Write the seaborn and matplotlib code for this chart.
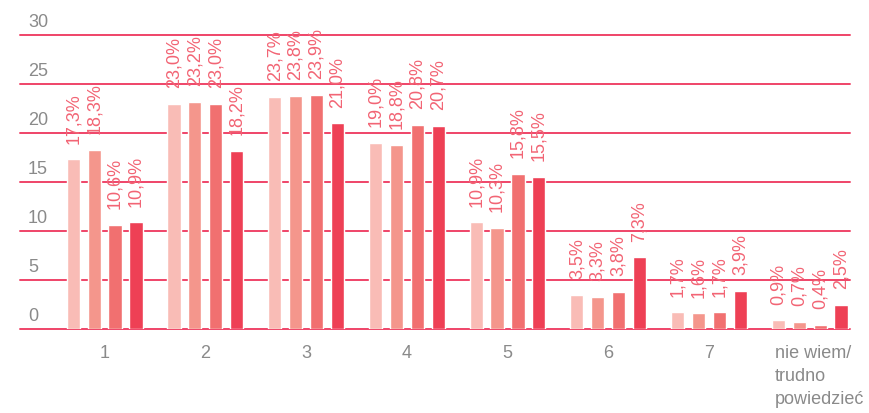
import matplotlib
matplotlib.use("Agg")
import matplotlib.pyplot as plt
import matplotlib.transforms as mtransforms
import seaborn as sns
import pandas as pd

# Answer categories and the four survey waves
categories = ["1", "2", "3", "4", "5", "6", "7", "nie wiem/\ntrudno\npowiedzieć"]
waves = ["w1", "w2", "w3", "w4"]
wave1 = [17.3, 23.0, 23.7, 19.0, 10.9, 3.5, 1.7, 0.9]
wave2 = [18.3, 23.2, 23.8, 18.8, 10.3, 3.3, 1.6, 0.7]
wave3 = [10.6, 23.0, 23.9, 20.8, 15.8, 3.8, 1.7, 0.4]
wave4 = [10.9, 18.2, 21.0, 20.7, 15.5, 7.3, 3.9, 2.5]
y_ticks = [0, 5, 10, 15, 20, 25, 30]

palette = ["#f9bcb6", "#f4968c", "#f17070", "#ee4055"]
label_color = "#f26474"
grid_color = "#ef4468"
text_grey = "#8a8a8a"

rows = []
for wave, vals in zip(waves, [wave1, wave2, wave3, wave4]):
    for cat, v in zip(categories, vals):
        rows.append({"kategoria": cat, "fala": wave, "procent": v})
df = pd.DataFrame(rows)

sns.set_theme(style="white")
plt.rcParams["font.family"] = ["Liberation Sans Narrow", "Liberation Sans", "DejaVu Sans"]

fig = plt.figure(figsize=(8.7, 4.14), dpi=100)
ax = fig.add_axes([20 / 870, 84 / 414, 830 / 870, 294 / 414])

sns.barplot(data=df, x="kategoria", y="procent", hue="fala", order=categories,
            hue_order=waves, palette=palette, width=0.83, gap=0.37,
            saturation=1, legend=False, errorbar=None, ax=ax, zorder=3)

for cont, vals in zip(ax.containers, [wave1, wave2, wave3, wave4]):
    ax.bar_label(cont, labels=[f"{v:.1f}".replace(".", ",") + "%" for v in vals],
                 padding=12, rotation=90, color=label_color, fontsize=13)

ax.set_ylim(0, 30)
ax.set_xlim(-0.84, 7.4)
ax.set_yticks(y_ticks)
ax.set_yticklabels([])
ax.tick_params(axis="y", length=0)
ax.grid(axis="y", color=grid_color, linewidth=1.4, zorder=0)
for gl in ax.get_ygridlines():
    gl.set_clip_on(False)
ax.set_axisbelow(True)
for s in ax.spines.values():
    s.set_visible(False)

for t in y_ticks:
    ax.annotate(str(t), xy=(0.0096, t), xycoords=ax.get_yaxis_transform(),
                xytext=(0, 3.5), textcoords="offset points",
                ha="left", va="bottom", fontsize=13, color=text_grey,
                annotation_clip=False)

ax.set_xlabel("")
ax.set_ylabel("")
ax.tick_params(axis="x", length=0, pad=11, labelsize=13, labelcolor=text_grey)
xlabels = ax.get_xticklabels()
for lbl in xlabels:
    lbl.set_multialignment("left")
    lbl.set_linespacing(1.45)
# nudge the multi-line last category label to the right
shift = mtransforms.ScaledTranslation(10 / 100, 0, fig.dpi_scale_trans)
xlabels[-1].set_transform(xlabels[-1].get_transform() + shift)

fig.savefig("out.png", dpi=100)
